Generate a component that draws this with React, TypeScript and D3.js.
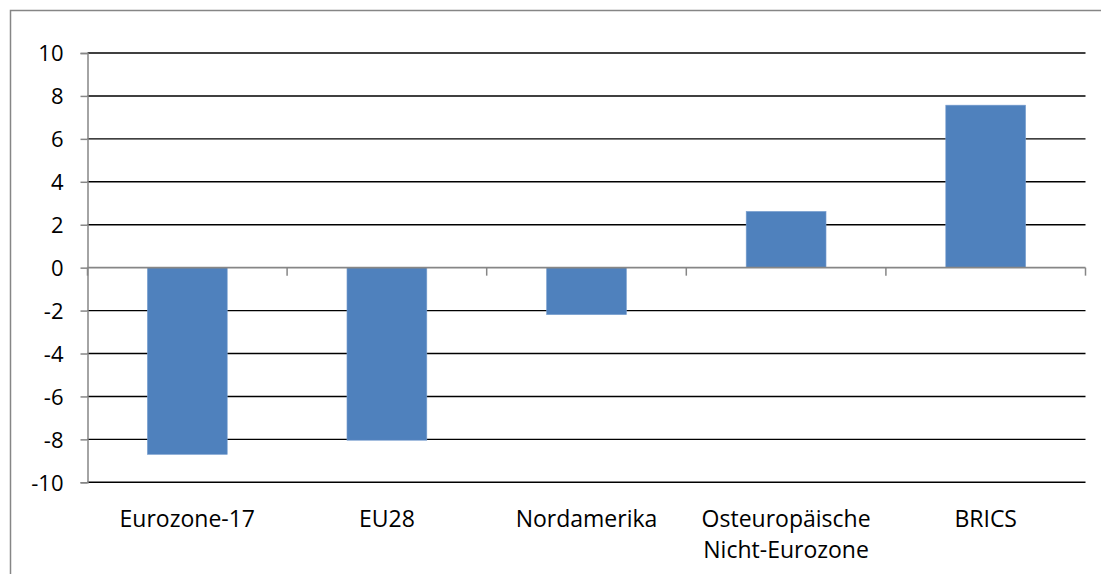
import { useRef, useEffect } from "react";
import * as d3 from "d3";

const W = 1101;
const H = 574;
const PAD = { top: 53, right: 15.5, bottom: 92, left: 87.5 };

const categories = [
  "Eurozone-17",
  "EU28",
  "Nordamerika",
  "Osteuropäische\nNicht-Eurozone",
  "BRICS",
];
const values = [-8.7, -8.04, -2.19, 2.62, 7.57];
const yTicks = [-10, -8, -6, -4, -2, 0, 2, 4, 6, 8, 10];

const FONT = "'Open Sans', 'Noto Sans', sans-serif";
const BAR = "#4F81BD";
const AXIS = "#868686";

export default function App() {
  const svgRef = useRef<SVGSVGElement>(null);

  useEffect(() => {
    const svg = d3.select(svgRef.current);
    if (!svg.node()) return;
    svg.selectAll("*").remove();

    const x = d3
      .scaleBand()
      .domain(categories)
      .range([PAD.left, W - PAD.right])
      .padding(0);

    const y = d3
      .scaleLinear()
      .domain([-10, 10])
      .range([H - PAD.bottom + 0.3, PAD.top]);

    // outer frame (right/bottom run off the page)
    svg
      .append("rect")
      .attr("x", 10.5)
      .attr("y", 10.5)
      .attr("width", W + 20)
      .attr("height", H + 20)
      .attr("fill", "none")
      .attr("stroke", AXIS)
      .attr("stroke-width", 1.5);

    // gridlines
    svg
      .append("g")
      .selectAll("line")
      .data(yTicks.filter((t) => t !== 0))
      .enter()
      .append("line")
      .attr("x1", PAD.left)
      .attr("x2", W - PAD.right)
      .attr("y1", (d) => y(d))
      .attr("y2", (d) => y(d))
      .attr("stroke", "#000")
      .attr("stroke-width", 1.4);

    // bars
    const bw = x.bandwidth() * 0.4;
    svg
      .append("g")
      .selectAll("rect")
      .data(values)
      .enter()
      .append("rect")
      .attr("x", (_d, i) => x(categories[i])! + (x.bandwidth() - bw) / 2)
      .attr("width", bw)
      .attr("y", (d) => y(Math.max(0, d)))
      .attr("height", (d) => Math.abs(y(d) - y(0)))
      .attr("fill", BAR)
      .attr("stroke", "#7a9fd0")
      .attr("stroke-width", 0.6);

    // y axis
    const yAxis = svg
      .append("g")
      .attr("transform", `translate(${PAD.left},0)`)
      .call(
        d3
          .axisLeft(y)
          .tickValues(yTicks)
          .tickFormat((d) => String(d))
          .tickSize(7)
          .tickPadding(17),
      );
    yAxis.select(".domain").attr("stroke", AXIS).attr("stroke-width", 1.5);
    yAxis.selectAll(".tick line").attr("stroke", AXIS).attr("stroke-width", 1.5);
    yAxis
      .selectAll("text")
      .attr("fill", "#000")
      .style("font-family", FONT)
      .style("font-size", "22px")
      .attr("dy", "0.35em");

    // x axis at zero
    const xAxis = svg
      .append("g")
      .attr("transform", `translate(0,${y(0)})`);
    xAxis
      .append("line")
      .attr("x1", PAD.left)
      .attr("x2", W - PAD.right)
      .attr("stroke", AXIS)
      .attr("stroke-width", 1.8);
    const edges = categories.map((c) => x(c)!).concat([W - PAD.right]);
    xAxis
      .selectAll(".edge")
      .data(edges)
      .enter()
      .append("line")
      .attr("x1", (d) => d)
      .attr("x2", (d) => d)
      .attr("y1", 0)
      .attr("y2", 8)
      .attr("stroke", AXIS)
      .attr("stroke-width", 1.5);

    // category labels
    const labels = svg
      .append("g")
      .selectAll("text")
      .data(categories)
      .enter()
      .append("text")
      .attr("x", (d) => x(d)! + x.bandwidth() / 2)
      .attr("y", 527)
      .attr("text-anchor", "middle")
      .attr("fill", "#000")
      .style("font-family", FONT)
      .style("font-size", "23px");
    labels
      .selectAll("tspan")
      .data((d) => d.split("\n"))
      .enter()
      .append("tspan")
      .attr("x", function () {
        return (this as SVGTSpanElement).parentElement!.getAttribute("x");
      })
      .attr("dy", (_d, i) => (i === 0 ? 0 : 31))
      .text((d) => d);
  }, []);

  return (
    <svg
      ref={svgRef}
      width={W}
      height={H}
      style={{ position: "absolute", left: 0, top: 0, background: "#fff" }}
    />
  );
}
